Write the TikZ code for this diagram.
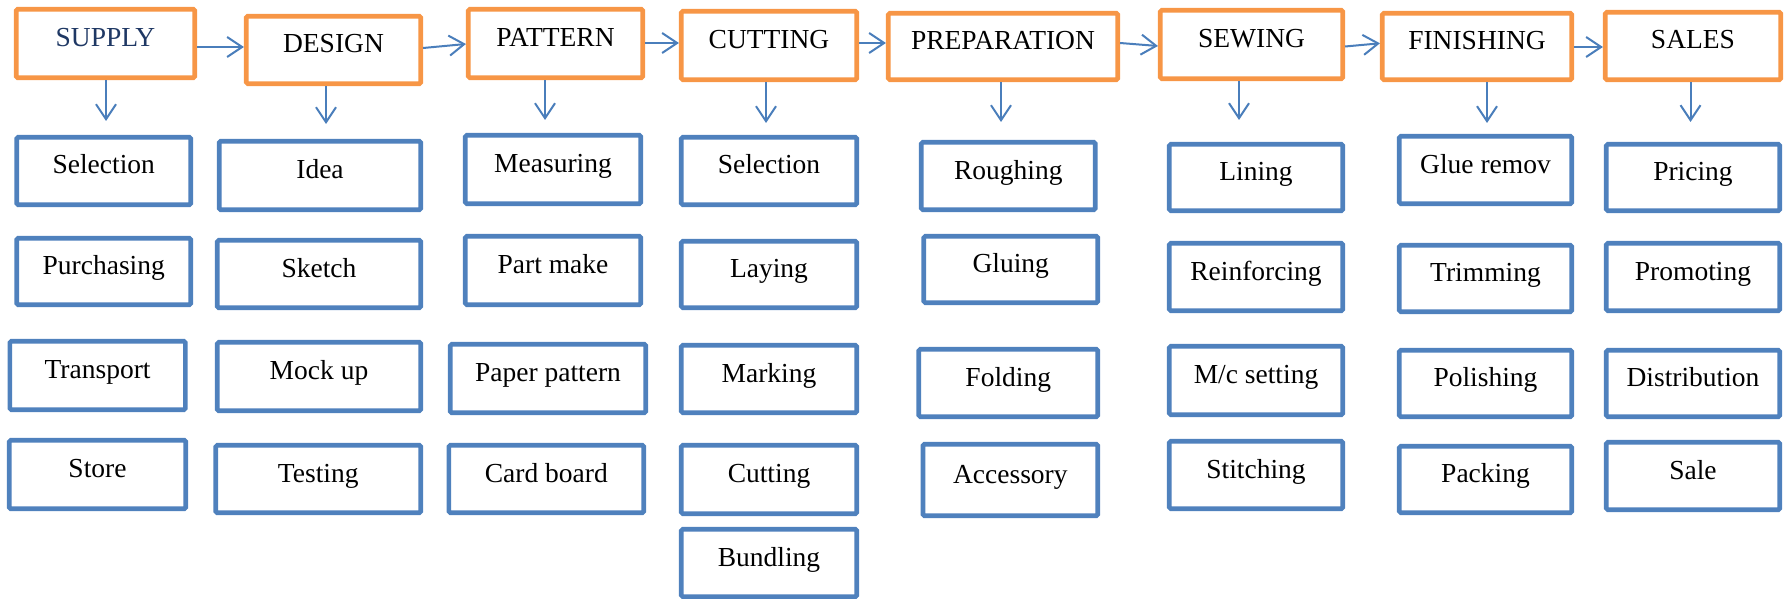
\documentclass[tikz,border=0pt]{standalone}
\usepackage{fontspec}
\setmainfont{Liberation Serif}
\usetikzlibrary{arrows.meta}
\definecolor{stageorange}{HTML}{F79646}
\definecolor{taskblue}{HTML}{4F81BD}
\definecolor{linkblue}{HTML}{4A7EBB}
\definecolor{navytext}{HTML}{1F3864}
\begin{document}
\begin{tikzpicture}[x=1pt,y=-1pt,
  basebox/.style={line width=4.6pt, rounded corners=1.5pt, fill=white,
    inner sep=0pt, text height=19pt, text depth=13pt,
    font=\fontsize{27.5}{32}\selectfont},
  stagebox/.style={basebox, draw=stageorange},
  taskbox/.style={basebox, draw=taskblue},
  sz/.style 2 args={minimum width=#1pt, minimum height=#2pt},
  link/.style={draw=linkblue, line width=2pt,
    -{Straight Barb[length=15pt,width=20pt,line width=2pt]}}]
\useasboundingbox (0,0) rectangle (1786,599);

% process stages
\node[stagebox, sz={178.5}{68.5}, text=navytext] (supply) at (105.5,43.5) {SUPPLY};
\node[stagebox, sz={174.5}{67.5}] (design) at (333.5,50) {DESIGN};
\node[stagebox, sz={174.5}{68.5}] (pattern) at (555.5,43.5) {PATTERN};
\node[stagebox, sz={175.5}{68.5}] (cutting) at (769,45.5) {CUTTING};
\node[stagebox, sz={229.5}{66.5}] (prep) at (1003,46.5) {PREPARATION};
\node[stagebox, sz={182.5}{68.5}] (sewing) at (1251.5,44.5) {SEWING};
\node[stagebox, sz={189.5}{66.5}] (finishing) at (1477,46.5) {FINISHING};
\node[stagebox, sz={175.5}{67.5}] (sales) at (1693,46) {SALES};

% supply tasks
\node[taskbox, sz={174}{67.5}] (sup1) at (103.75,171) {Selection};
\node[taskbox, sz={174}{66.5}] (sup2) at (103.75,271.5) {Purchasing};
\node[taskbox, sz={175.5}{68.5}] (sup3) at (97.6,375.5) {Transport};
\node[taskbox, sz={176.5}{68.5}] (sup4) at (97.5,474.5) {Store};

% design tasks
\node[taskbox, sz={201.5}{68.5}] (des1) at (320,175.5) {Idea};
\node[taskbox, sz={203.5}{67.5}] (des2) at (319,274) {Sketch};
\node[taskbox, sz={203.5}{68.5}] (des3) at (319,376.5) {Mock up};
\node[taskbox, sz={205}{67.5}] (des4) at (318.25,479) {Testing};

% pattern tasks
\node[taskbox, sz={175.5}{68.5}] (pat1) at (553,169.5) {Measuring};
\node[taskbox, sz={175.5}{68.5}] (pat2) at (553,270.5) {Part make};
\node[taskbox, sz={195.5}{68.5}] (pat3) at (548,378.5) {Paper pattern};
\node[taskbox, sz={194.9}{67.5}] (pat4) at (546.3,479) {Card board};

% cutting tasks
\node[taskbox, sz={175.5}{67.5}] (cut1) at (769,171) {Selection};
\node[taskbox, sz={175.5}{66.5}] (cut2) at (769,274.5) {Laying};
\node[taskbox, sz={175.5}{67.5}] (cut3) at (769,379) {Marking};
\node[taskbox, sz={175.5}{68.5}] (cut4) at (769,479.5) {Cutting};
\node[taskbox, sz={175.5}{67.5}] (cut5) at (769,563) {Bundling};

% preparation tasks
\node[taskbox, sz={174}{67.5}] (pre1) at (1008.25,176) {Roughing};
\node[taskbox, sz={174}{66.5}] (pre2) at (1010.75,269.5) {Gluing};
\node[taskbox, sz={179}{67.5}] (pre3) at (1008.25,383) {Folding};
\node[taskbox, sz={174.8}{71.5}] (pre4) at (1010.35,480) {Accessory};

% sewing tasks
\node[taskbox, sz={173.5}{66.5}] (sew1) at (1256,177.5) {Lining};
\node[taskbox, sz={173.5}{67.5}] (sew2) at (1256,277) {Reinforcing};
\node[taskbox, sz={173.5}{68.5}] (sew3) at (1256,380.5) {M/c setting};
\node[taskbox, sz={173.5}{67.5}] (sew4) at (1256,475) {Stitching};

% finishing tasks
\node[taskbox, sz={172.5}{67.5}] (fin1) at (1485.5,170) {Glue remov};
\node[taskbox, sz={172.5}{66.5}] (fin2) at (1485.5,278.5) {Trimming};
\node[taskbox, sz={172.5}{66.5}] (fin3) at (1485.5,383.5) {Polishing};
\node[taskbox, sz={172.5}{66.5}] (fin4) at (1485.5,479.5) {Packing};

% sales tasks
\node[taskbox, sz={173.5}{66.5}] (sal1) at (1693,177.5) {Pricing};
\node[taskbox, sz={173.5}{67.5}] (sal2) at (1693,277) {Promoting};
\node[taskbox, sz={173.5}{66.5}] (sal3) at (1693,383.5) {Distribution};
\node[taskbox, sz={173.5}{67.5}] (sal4) at (1693,476) {Sale};

% flow between stages
\draw[link] ([yshift=-3.5pt]supply.east) -- ([yshift=3pt]design.west);
\draw[link] ([yshift=2pt]design.east) -- ([yshift=-0.5pt]pattern.west);
\draw[link] ([yshift=0.5pt]pattern.east) -- ([yshift=2.5pt]cutting.west);
\draw[link] ([yshift=2.5pt]cutting.east) -- ([yshift=3.5pt]prep.west);
\draw[link] ([yshift=3.5pt]prep.east) -- ([yshift=-1.5pt]sewing.west);
\draw[link] ([yshift=-2pt]sewing.east) -- ([yshift=3.2pt]finishing.west);
\draw[link] ([yshift=-0.5pt]finishing.east) -- ([yshift=-1pt]sales.west);

% arrows down to each task list
\coordinate (supplyEnd) at (106,121);
\coordinate (designEnd) at (326,124);
\coordinate (patternEnd) at (545,120);
\coordinate (cuttingEnd) at (766,123);
\coordinate (prepEnd) at (1001,122);
\coordinate (sewingEnd) at (1239,120);
\coordinate (finishingEnd) at (1487,123);
\coordinate (salesEnd) at (1690.5,122);
\foreach \s in {supply,design,pattern,cutting,prep,sewing,finishing,sales}
  \draw[link] (\s.south -| \s End) -- (\s End);
\end{tikzpicture}
\end{document}
